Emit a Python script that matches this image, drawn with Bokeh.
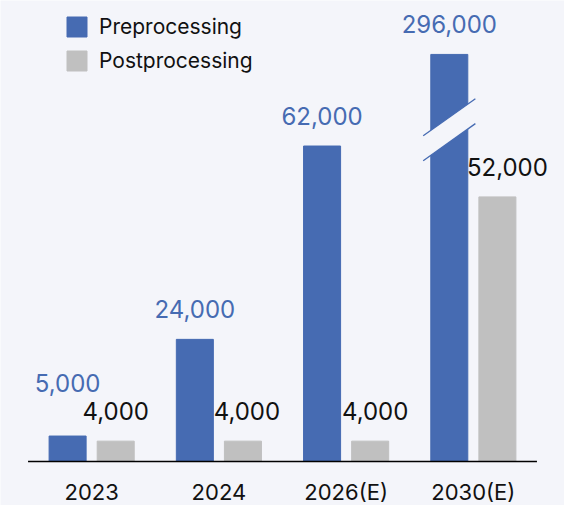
import numpy as np
from bokeh.plotting import figure
from bokeh.models import ColumnDataSource, FactorRange, Range1d, Legend, LegendItem
from bokeh.transform import dodge
from bokeh.core.properties import value
from bokeh.embed import file_html
from bokeh.resources import INLINE

# ---- data ----
years = ["2023", "2024", "2026(E)", "2030(E)"]
preprocessing = [5000, 24000, 62000, 296000]
postprocessing = [4000, 4000, 4000, 52000]
series_names = ["Preprocessing", "Postprocessing"]
axis_break_at = 80000  # bars above this are drawn broken

# ---- style ----
BG = "#f4f5fa"
BLUE = "#466bb2"
GRAY = "#c0c0c0"
FONT = "Inter"
OFF = 0.189
BAR_W = 0.291
post_label_nudge_px = [0, 4, 5, 10]  # small rightward nudges of the gray labels

pre = np.array(preprocessing, dtype=float)
post = np.array(postprocessing, dtype=float)
pre_disp = np.minimum(pre, axis_break_at)
post_disp = np.minimum(post, axis_break_at)
# keep the blue label clear of the gray label when bars are short
pre_label_y = np.maximum(pre_disp, post_disp + 5500)

src = ColumnDataSource(dict(
    year=years,
    pre=pre_disp, post=post_disp,
    pre_lab=[f"{v:,.0f}" for v in pre],
    post_lab=[f"{v:,.0f}" for v in post],
    pre_y=pre_label_y,
    post_dx=post_label_nudge_px,
))

p = figure(x_range=FactorRange(*years, range_padding=0.2165, range_padding_units="absolute"),
           y_range=Range1d(-8650, 90600),
           width=564, height=505, output_backend="svg", toolbar_location=None,
           y_axis_location=None, min_border_left=0, min_border_right=0,
           min_border_top=0, min_border_bottom=0,
           background_fill_color=BG, border_fill_color=BG, outline_line_color=None)
p.grid.visible = False

r_pre = p.vbar(x=dodge("year", -OFF, range=p.x_range), top="pre", width=BAR_W,
               source=src, fill_color=BLUE, line_color=BLUE)
r_post = p.vbar(x=dodge("year", OFF, range=p.x_range), top="post", width=BAR_W,
                source=src, fill_color=GRAY, line_color=GRAY)

# baseline under the category groups
p.segment(x0=[0], y0=[0], x1=[len(years)], y1=[0], line_color="#000000", line_width=1.5)

# axis break on bars taller than the cap
for i, v in enumerate(pre):
    if v > axis_break_at:
        cx = i + 0.5 - OFF
        hw = 0.205
        mid, half, slope = 65200, 2450, 3650
        xs = [cx - hw, cx + hw, cx + hw, cx - hw]
        ys = [mid + half - slope, mid + half + slope, mid - half + slope, mid - half - slope]
        p.patch(xs, ys, fill_color=BG, line_color=None)
        p.segment(x0=[cx - hw, cx - hw], y0=[mid + half - slope, mid - half - slope],
                  x1=[cx + hw, cx + hw], y1=[mid + half + slope, mid - half + slope],
                  line_color=BLUE, line_width=1.3)

p.text(x=dodge("year", -OFF, range=p.x_range), y="pre_y", text="pre_lab", source=src,
       text_align="center", text_baseline="alphabetic", y_offset=-30,
       text_font=value(FONT), text_font_size="24px", text_color=BLUE)
p.text(x=dodge("year", OFF, range=p.x_range), y="post", text="post_lab", source=src,
       x_offset="post_dx",
       text_align="center", text_baseline="alphabetic", y_offset=-30,
       text_font=value(FONT), text_font_size="24px", text_color="#111111")

ax = p.xaxis[0]
ax.fixed_location = 0
ax.axis_line_color = None
ax.major_tick_line_color = None
ax.minor_tick_line_color = None
ax.major_tick_out = 0
ax.major_tick_in = 0
ax.major_label_standoff = 18
ax.major_label_text_font = FONT
ax.major_label_text_font_size = "22px"
ax.major_label_text_color = "#111111"

legend = Legend(items=[LegendItem(label=series_names[0], renderers=[r_pre]),
                       LegendItem(label=series_names[1], renderers=[r_post])],
                location=(64, 432), orientation="vertical",
                glyph_width=25, glyph_height=25, label_height=25,
                spacing=9, padding=0, margin=0, label_standoff=10,
                label_text_font=FONT, label_text_font_size="21px",
                label_text_color="#111111",
                background_fill_alpha=0, border_line_color=None)
p.add_layout(legend, "center")

open("out.html", "w").write(file_html(p, INLINE))
